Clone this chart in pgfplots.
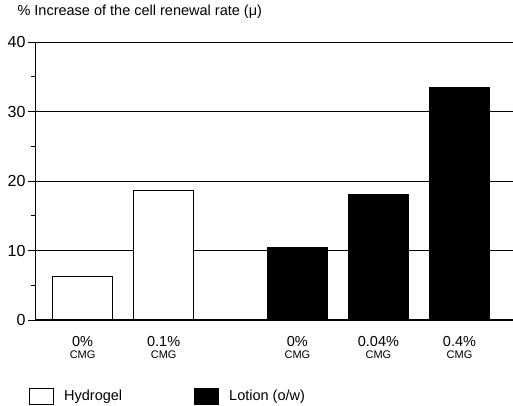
\documentclass[border=0pt]{standalone}
\usepackage{pgfplots}
\pgfplotsset{compat=1.18}
\usepackage{fontspec}
\setmainfont{Liberation Sans}
\begin{document}
\begin{tikzpicture}[x=1pt,y=1pt]
\path[use as bounding box] (0,0) rectangle (513,406);
\begin{axis}[
  at={(36pt,86pt)}, anchor=south west,
  scale only axis, width=477pt, height=278pt,
  xmin=-0.575, xmax=5.31, ymin=0, ymax=40,
  axis x line=bottom, axis y line=left,
  axis line style={-, line width=1pt},
  x axis line style={-},
  y axis line style={-},
  xtick={0,1,2.65,3.65,4.65},
  xticklabels={{0\%\\[-1pt]{\fontsize{11}{12}\selectfont CMG}},
               {0.1\%\\[-1pt]{\fontsize{11}{12}\selectfont CMG}},
               {0\%\\[-1pt]{\fontsize{11}{12}\selectfont CMG}},
               {0.04\%\\[-1pt]{\fontsize{11}{12}\selectfont CMG}},
               {0.4\%\\[-1pt]{\fontsize{11}{12}\selectfont CMG}}},
  xticklabel style={align=center, font=\fontsize{14.5}{13}\selectfont, yshift=-5pt},
  x tick style={draw=none},
  ytick={0,10,20,30,40},
  minor ytick={5,15,25,35},
  tick align=outside,
  major tick length=8pt, minor tick length=5pt,
  y tick style={line width=0.9pt, black},
  yticklabel style={font=\fontsize{16}{16}\selectfont, xshift=1pt},
  /pgf/number format/assume math mode=true,
  ymajorgrids,
  major grid style={line width=0.9pt, black},
  ybar, bar width=0.74, bar shift=0pt,
  title={\% Increase of the cell renewal rate (μ)},
  title style={at={(0,1)}, anchor=base west, xshift=-22pt, yshift=20pt, font=\fontsize{14.5}{15}\selectfont},
  legend style={at={(0,0)}, anchor=west, xshift=-7pt, yshift=-76pt, draw=none, fill=none,
    inner sep=0pt, legend columns=2, font=\fontsize{14.5}{15}\selectfont,
    /tikz/every odd column/.append style={column sep=8pt},
    /tikz/every even column/.append style={column sep=70pt}},
  legend image code/.code={\draw[#1, line width=1pt] (0pt,-8pt) rectangle (24pt,8pt);},
  legend cell align=left,
]
\addplot[draw=black, fill=white, line width=1pt] coordinates {(0,6.2) (1,18.6)};
\addlegendentry{Hydrogel}
\addplot[draw=black, fill=black, line width=1pt] coordinates {(2.65,10.4) (3.65,18.1) (4.65,33.5)};
\addlegendentry{Lotion (o/w)}
\end{axis}
\end{tikzpicture}
\end{document}
